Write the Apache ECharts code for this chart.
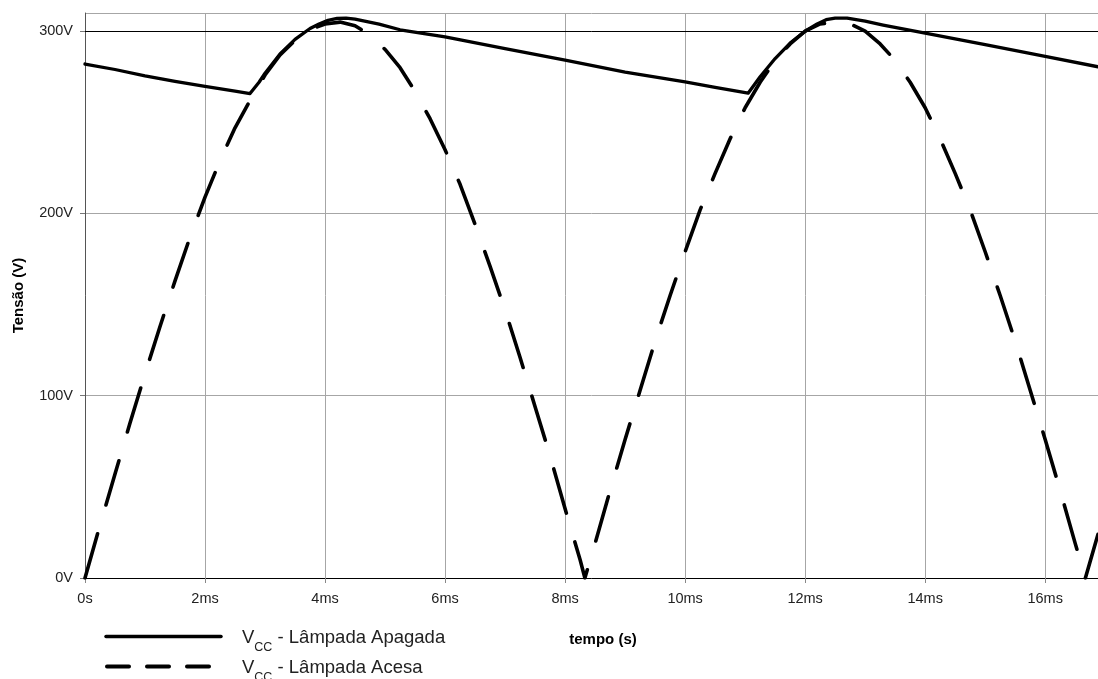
<!DOCTYPE html>
<html>
<head>
<meta charset="utf-8">
<script src="https://cdn.jsdelivr.net/npm/echarts@6/dist/echarts.min.js"></script>
<style>
  html, body { margin: 0; padding: 0; background: #fff; }
  #chart { width: 1098px; height: 679px; }
</style>
</head>
<body>
<div id="chart"></div>
<script>
// Tensão no capacitor do retificador de onda completa (60 Hz)
const FONT = "'Liberation Sans', Arial, sans-serif";

// tempo em ms / tensão em V — lâmpada apagada (linha contínua)
const tempoApagada = [0, 0.5, 1, 1.5, 2, 2.5, 2.75, 2.9, 3.0, 3.25, 3.5, 3.75, 3.9, 4.05, 4.2, 4.35, 4.5,
  4.9, 5.25, 6, 7, 8, 9, 10, 10.5, 11.05, 11.25, 11.5, 11.75, 12, 12.2, 12.35, 12.5, 12.7, 13.0, 13.3,
  14, 15, 16, 16.88];
const tensaoApagada = [282, 279, 275.5, 272.5, 269.7, 267.2, 265.8, 272, 277, 287.5, 295.5, 301.5, 304, 306, 307, 307.2, 306.6,
  303.9, 300.8, 296.9, 290.5, 284.2, 277.6, 272.2, 269.2, 266, 275, 285, 293.5, 300, 304, 306.3, 307.2, 307.2, 305.5, 303.4,
  299, 292.6, 286.2, 280.5];

// tempo em ms / tensão em V — lâmpada acesa (linha tracejada)
const tempoAcesa = [0, 0.25, 0.5, 0.75, 1, 1.25, 1.5, 1.75, 2, 2.25, 2.5, 2.75, 3, 3.25, 3.5, 3.75,
  4, 4.25, 4.5, 4.75, 5, 5.25, 5.5, 5.75, 6, 6.25, 6.5, 6.75, 7, 7.25, 7.5, 7.75, 8, 8.25, 8.33,
  8.5, 8.75, 9, 9.25, 9.5, 9.75, 10, 10.25, 10.5, 10.75, 11, 11.25, 11.5, 11.75, 12, 12.25,
  12.5, 12.75, 13, 13.25, 13.5, 13.75, 14, 14.25, 14.5, 14.75, 15, 15.25, 15.5, 15.75, 16, 16.25, 16.5, 16.67, 16.88];
const tensaoAcesa = [0, 29, 57, 85, 112, 138, 163, 187, 209, 229, 247, 262, 276, 287, 295, 301,
  304, 305, 303, 298, 290, 280, 267, 252, 235, 216, 194, 171, 147, 121, 94, 67, 38, 10, 0,
  19, 48, 76, 103, 130, 155, 179, 202, 222, 241, 258, 272, 284, 293, 300, 304,
  305, 304, 300, 293, 284, 272, 258, 241, 222, 202, 179, 155, 130, 103, 76, 48, 19, 0, 24];

const rotulosSerie = ['Lâmpada Apagada', 'Lâmpada Acesa'];
const yTicks = [0, 100, 200, 300];
const xTicks = [0, 2, 4, 6, 8, 10, 12, 14, 16];

const pares = (t, v) => t.map((x, i) => [x, v[i]]);

const chart = echarts.init(document.getElementById('chart'), null, { renderer: 'canvas' });

const gridColor = '#a6a6a6';

// texto da legenda com subscrito "CC"
const legendRich = {
  v: { font: '18.5px ' + FONT, fill: '#222', lineHeight: 20, verticalAlign: 'top' },
  s: { font: '12.5px ' + FONT, fill: '#222', lineHeight: 12, padding: [12.5, 0, 0, 0], verticalAlign: 'top' },
  t: { font: '18.5px ' + FONT, fill: '#222', lineHeight: 20, verticalAlign: 'top' }
};

chart.setOption({
  animation: false,
  backgroundColor: '#ffffff',
  textStyle: { fontFamily: FONT },
  grid: { left: 85, right: 0, top: 13, bottom: 101, containLabel: false },
  xAxis: {
    type: 'value',
    min: 0,
    max: 16.88,
    interval: 2,
    axisLine: { show: true, lineStyle: { color: '#000', width: 1 } },
    axisTick: { show: true, length: 5, lineStyle: { color: '#888' } },
    axisLabel: {
      showMaxLabel: false,
      margin: 13,
      color: '#222',
      fontSize: 14.5,
      fontFamily: FONT,
      formatter: v => xTicks.includes(v) ? (v === 0 ? '0s' : v + 'ms') : ''
    },
    splitLine: { show: true, lineStyle: { color: gridColor, width: 1 } }
  },
  yAxis: {
    type: 'value',
    min: 0,
    max: 310,
    interval: 100,
    axisLine: { show: true, lineStyle: { color: '#555', width: 1 } },
    axisTick: { show: true, length: 5, lineStyle: { color: '#777' } },
    axisLabel: {
      showMaxLabel: false,
      margin: 12,
      color: '#222',
      fontSize: 14.5,
      fontFamily: FONT,
      formatter: v => yTicks.includes(v) ? v + 'V' : ''
    },
    splitLine: { show: true, lineStyle: { color: gridColor, width: 1 } }
  },
  series: [
    {
      name: rotulosSerie[0],
      type: 'line',
      data: pares(tempoApagada, tensaoApagada),
      showSymbol: false,
      lineStyle: { color: '#000', width: 3.3, cap: 'round', join: 'round' },
      z: 3,
      markLine: {
        silent: true,
        symbol: 'none',
        label: { show: false },
        lineStyle: { color: '#000', width: 1, type: 'solid' },
        data: [{ yAxis: 300 }]
      }
    },
    {
      name: rotulosSerie[1],
      type: 'line',
      data: pares(tempoAcesa, tensaoAcesa),
      showSymbol: false,
      lineStyle: { color: '#000', width: 3.6, type: [46, 30], cap: 'round', join: 'round' },
      z: 4
    }
  ],
  graphic: [
    {
      type: 'text',
      rotation: Math.PI / 2,
      x: 19, y: 295.5,
      style: { text: 'Tensão (V)', font: 'bold 15px ' + FONT, fill: '#000', align: 'center', verticalAlign: 'middle' }
    },
    {
      type: 'text',
      x: 603, y: 640,
      style: { text: 'tempo (s)', font: 'bold 15px ' + FONT, fill: '#000', align: 'center', verticalAlign: 'middle' }
    },
    {
      type: 'line',
      shape: { x1: 106, y1: 636.5, x2: 221, y2: 636.5 },
      style: { stroke: '#000', lineWidth: 3.5, lineCap: 'round' }
    },
    {
      type: 'line',
      shape: { x1: 107, y1: 666.5, x2: 211, y2: 666.5 },
      style: { stroke: '#000', lineWidth: 4, lineCap: 'round', lineDash: [22, 18] }
    },
    {
      type: 'text',
      x: 242, y: 638.5,
      style: {
        text: '{v|V}{s|CC}{t| - ' + rotulosSerie[0] + '}',
        verticalAlign: 'middle',
        rich: legendRich
      }
    },
    {
      type: 'text',
      x: 242, y: 668.5,
      style: {
        text: '{v|V}{s|CC}{t| - ' + rotulosSerie[1] + '}',
        verticalAlign: 'middle',
        rich: legendRich
      }
    }
  ]
});
</script>
</body>
</html>
